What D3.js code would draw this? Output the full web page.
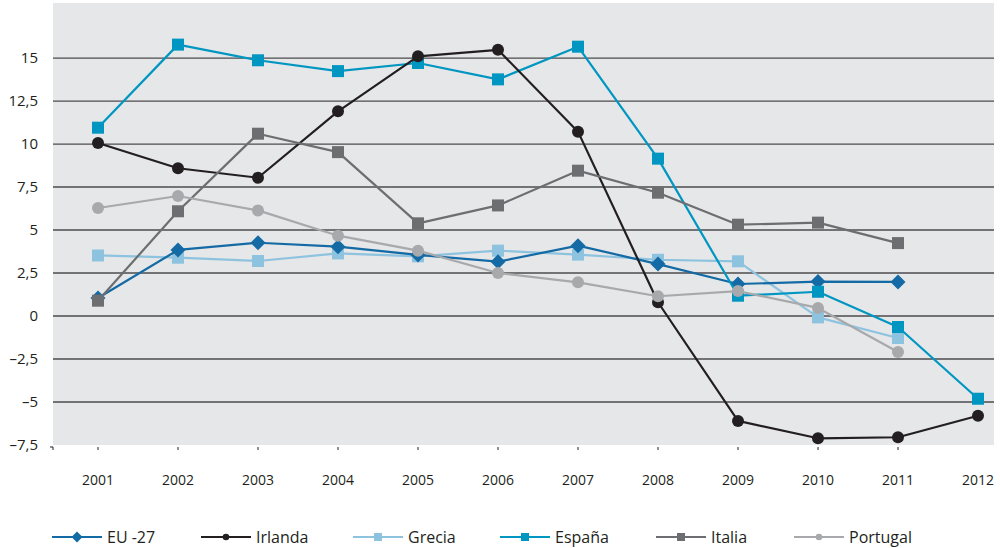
<!DOCTYPE html>
<html>
<head>
<meta charset="utf-8">
<script src="https://cdn.jsdelivr.net/npm/d3@7"></script>
<style>
  html, body { margin: 0; padding: 0; background: #ffffff; }
  svg { display: block; }
  text { font-family: "Open Sans", "Noto Sans", sans-serif; fill: #231f20; }
</style>
</head>
<body>
<svg id="chart" width="1000" height="548"></svg>
<script>
// ---- data ----
const years = [2001, 2002, 2003, 2004, 2005, 2006, 2007, 2008, 2009, 2010, 2011, 2012];
const yTicks = [-7.5, -5, -2.5, 0, 2.5, 5, 7.5, 10, 12.5, 15];

const eu27     = [1.05, 3.84, 4.26, 4.03, 3.55, 3.16, 4.09, 3.02, 1.86, 2.0, 1.98, null];
const irlanda  = [10.06, 8.59, 8.04, 11.9, 15.1, 15.48, 10.72, 0.8, -6.1, -7.11, -7.05, -5.8];
const grecia   = [3.52, 3.39, 3.2, 3.64, 3.47, 3.8, 3.57, 3.27, 3.18, -0.08, -1.28, null];
const espana   = [10.95, 15.78, 14.87, 14.24, 14.71, 13.76, 15.66, 9.15, 1.18, 1.41, -0.64, -4.81];
const italia   = [0.89, 6.09, 10.6, 9.53, 5.39, 6.43, 8.45, 7.17, 5.31, 5.43, 4.24, null];
const portugal = [6.28, 6.98, 6.14, 4.67, 3.8, 2.5, 1.96, 1.15, 1.45, 0.47, -2.09, null];

const seriesNames  = ["EU -27", "Irlanda", "Grecia", "España", "Italia", "Portugal"];
const seriesValues = [eu27, irlanda, grecia, espana, italia, portugal];
const seriesColors = ["#146aa4", "#231f20", "#8dc3df", "#0096c2", "#6d6e71", "#a7a9ac"];
const seriesShapes = ["diamond", "circle", "square", "square", "square", "circle"];
// drawing order (indices into the arrays above)
const drawOrder = [2, 0, 3, 1, 4, 5];

// ---- layout ----
const svg = d3.select("#chart");
const plot = { left: 53, right: 994, top: 3, bottom: 445 };

const x = d3.scaleLinear().domain([2001, 2012]).range([98, 978]);
const y = d3.scaleLinear().domain([-7.5, 18.2]).range([plot.bottom, plot.top]);

const fmt = v => (v < 0 ? "–" : "") + String(Math.abs(v)).replace(".", ",");

// background
svg.append("rect")
  .attr("x", plot.left).attr("y", plot.top)
  .attr("width", plot.right - plot.left).attr("height", plot.bottom - plot.top)
  .attr("fill", "#e6e7e8");

// gridlines
svg.append("g").selectAll("line").data(yTicks.filter(t => t > -7.5)).join("line")
  .attr("x1", plot.left).attr("x2", plot.right)
  .attr("y1", d => y(d)).attr("y2", d => y(d))
  .attr("stroke", "#4d4d4f").attr("stroke-width", 1.3);

// y axis labels
const yAxis = d3.axisLeft(y).tickValues(yTicks).tickFormat(fmt).tickSize(0).tickPadding(0);
const yg = svg.append("g").attr("transform", `translate(38,0)`).call(yAxis);
yg.select(".domain").remove();
yg.selectAll("text").attr("font-size", 15).attr("fill", "#231f20")
  .attr("font-family", "'Open Sans', sans-serif");

// x axis
const xg = svg.append("g").attr("transform", `translate(0,${plot.bottom})`);
xg.selectAll("line.tk").data(years.slice(0, 11)).join("line").attr("class", "tk")
  .attr("x1", d => x(d)).attr("x2", d => x(d))
  .attr("y1", 2).attr("y2", 5)
  .attr("stroke", "#231f20").attr("stroke-width", 1);
xg.append("path").attr("d", `M${plot.left - 3},2H${plot.left}V5`)
  .attr("fill", "none").attr("stroke", "#231f20").attr("stroke-width", 1);
xg.selectAll("text").data(years).join("text")
  .attr("x", d => x(d)).attr("y", 40)
  .attr("text-anchor", "middle")
  .attr("font-size", 14)
  .text(d => d);

// series
const markerPath = (shape, r) => {
  if (shape === "diamond") return `M0,${-r}L${r},0L0,${r}L${-r},0Z`;
  if (shape === "circle") return d3.symbol(d3.symbolCircle, Math.PI * r * r)();
  return `M${-r},${-r}H${r}V${r}H${-r}Z`;
};
const markerR = { diamond: 7.5, circle: 6, square: 6 };

drawOrder.forEach(i => {
  const pts = years.map((yr, j) => ({ yr, v: seriesValues[i][j] })).filter(p => p.v !== null);
  const g = svg.append("g");
  g.append("path").datum(pts)
    .attr("d", d3.line().x(p => x(p.yr)).y(p => y(p.v)))
    .attr("fill", "none").attr("stroke", seriesColors[i]).attr("stroke-width", 2.2)
    .attr("stroke-linejoin", "round");
  g.selectAll("path.m").data(pts).join("path").attr("class", "m")
    .attr("transform", p => `translate(${x(p.yr)},${y(p.v)})`)
    .attr("d", markerPath(seriesShapes[i], markerR[seriesShapes[i]]))
    .attr("fill", seriesColors[i]);
});

// legend
const legendX = [52, 201, 353, 500, 656, 794];
const legendY = 537;
const lg = svg.append("g");
seriesNames.forEach((name, i) => {
  const gx = legendX[i];
  lg.append("line").attr("x1", gx).attr("x2", gx + 50)
    .attr("y1", legendY).attr("y2", legendY)
    .attr("stroke", seriesColors[i]).attr("stroke-width", 2.2);
  const small = { diamond: 5.5, circle: 3.3, square: 4 }[seriesShapes[i]];
  lg.append("path").attr("transform", `translate(${gx + 25},${legendY})`)
    .attr("d", markerPath(seriesShapes[i], small))
    .attr("fill", seriesColors[i]);
  lg.append("text").attr("x", gx + 55).attr("y", legendY + 6)
    .attr("font-size", 16).text(name);
});
</script>
</body>
</html>
